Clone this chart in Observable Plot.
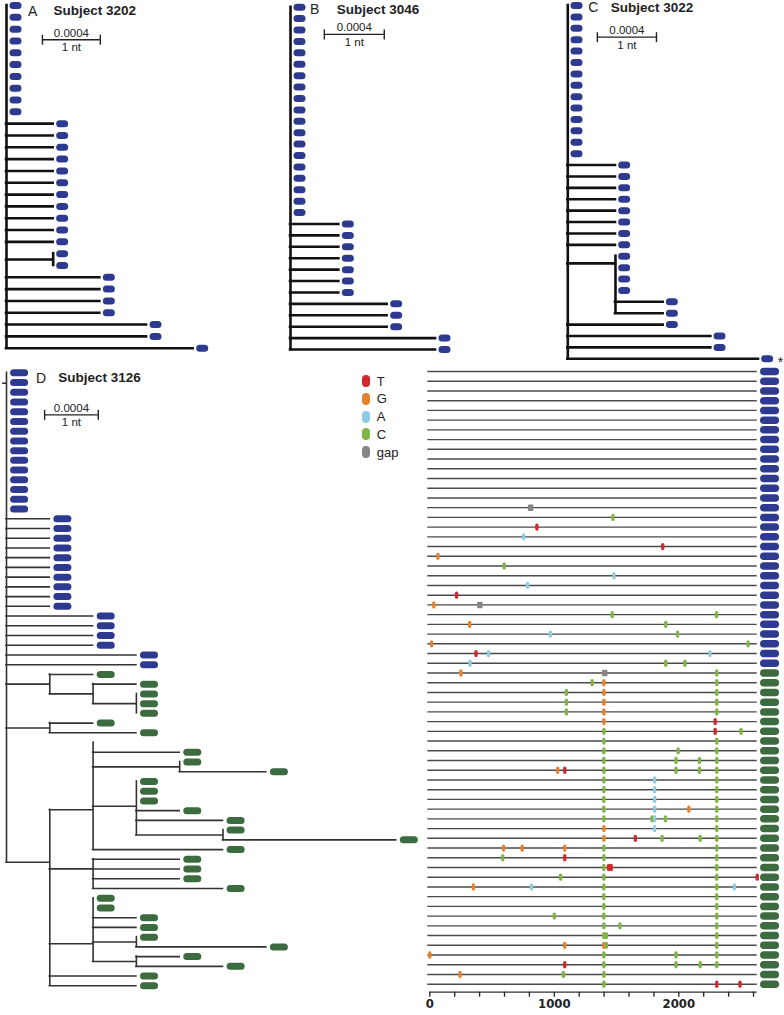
<!DOCTYPE html>
<html><head><meta charset="utf-8">
<script src="https://cdn.jsdelivr.net/npm/d3@7"></script>
<script src="https://cdn.jsdelivr.net/npm/@observablehq/plot@0.6"></script>
<style>
html,body{margin:0;padding:0;background:#fff;}
#chart{position:relative;width:784px;height:1015px;overflow:hidden;font-family:"Liberation Sans",Arial,sans-serif;color:#222;}
#chart svg{position:absolute;left:0;top:0;}
.t{position:absolute;white-space:nowrap;line-height:1;}
.pill{position:absolute;width:8px;height:12px;border-radius:4px;}
</style></head><body><div id="chart"></div>
<script>
// ---------------- DATA ----------------
// Trees in Newick form: tip names b = blue (early) tip, s = blue tip marked "*", g = green tip, h = green tip without symbol.
// Branch lengths in nucleotide substitutions; "#k" = position of a polytomy node, in tip rows.
const treeA = `(b:0,b:0,b:0,b:0,b:0,b:0,b:0,b:0,b:0,b:0,
 b:1,b:1,b:1,b:1,b:1,b:1,b:1,b:1,b:1,b:1,b:1,(b:0,b:0):1,
 b:2,b:2,b:2,b:2,b:3,b:3,b:4)`;
const treeB = `(b:0,b:0,b:0,b:0,b:0,b:0,b:0,b:0,b:0,b:0,b:0,b:0,b:0,b:0,b:0,b:0,b:0,b:0,b:0,
 b:1,b:1,b:1,b:1,b:1,b:1,b:1,b:2,b:2,b:2,b:3,b:3)`;
const treeC = `(b:0,b:0,b:0,b:0,b:0,b:0,b:0,b:0,b:0,b:0,b:0,b:0,b:0,b:0,
 b:1,b:1,b:1,b:1,b:1,b:1,b:1,b:1,(b:0,b:0,b:0,b:0,b:1,b:1)#22.63:1,
 b:2,b:3,b:3,s:4)`;
const treeD = `(b:0,b:0,b:0,b:0,b:0,b:0,b:0,b:0,b:0,b:0,b:0,b:0,b:0,b:0,b:0,
 b:1,b:1,b:1,b:1,b:1,b:1,b:1,b:1,b:1,b:1,b:2,b:2,b:2,b:2,b:3,b:3,
 (g:1,(g:1,(g:0,g:0,g:0):1):1):1,
 (g:1,g:2):1,
 ((h:0,g:2,(g:0,g:2):2,(g:0,g:0,g:0,g:1,g:2,(g:0,g:4):2)#44.54:1,g:3)#44.9:1,
  (g:2,g:2,g:2,g:3)#50.98:1,
  (g:0,g:0,g:1,g:1,(g:0,g:3):1,(g:1,g:2):1)#58.68:1,
  g:2,g:2)#50.3:1)#1.07`;

const letters = ["A", "B", "C", "D"];
const subjects = ["Subject 3202", "Subject 3046", "Subject 3022", "Subject 3126"];
const scaleTexts = ["0.0004", "1 nt"];
const starText = "*";

const tipColors = {b: "#2e3a8f", s: "#2e3a8f", g: "#3b6b3e", h: "#3b6b3e"};
const bases = ["T", "G", "A", "C", "gap"];
const baseColors = ["#d1282e", "#e6812e", "#8ccde3", "#7fb545", "#868686"];

// Highlighter: [row (tip order of tree D), alignment position, base]
const mutations = [
 [14,810,"gap"],[15,1471,"C"],[16,860,"T"],[17,753,"A"],[18,1871,"T"],[19,65,"G"],[20,597,"C"],
 [21,1479,"A"],[22,785,"A"],[23,215,"T"],[24,32,"G"],[24,402,"gap"],
 [25,1465,"C"],[25,2303,"C"],[26,320,"G"],[26,1895,"C"],[27,968,"A"],[27,1990,"C"],
 [28,14,"G"],[28,2557,"C"],[29,371,"T"],[29,471,"A"],[29,2250,"A"],
 [30,323,"A"],[30,1895,"C"],[30,2049,"C"],
 [31,250,"G"],[31,1405,"gap"],[31,2305,"C"],
 [32,1304,"C"],[32,1398,"G"],[32,2305,"C"],
 [33,1097,"C"],[33,1398,"G"],[33,2305,"C"],
 [34,1097,"C"],[34,1398,"G"],[34,2305,"C"],
 [35,1097,"C"],[35,1398,"G"],[35,2305,"C"],
 [36,1398,"G"],[36,2292,"T"],
 [37,1398,"C"],[37,2292,"T"],[37,2500,"C"],
 [38,1398,"C"],[38,2305,"C"],
 [39,1398,"C"],[39,1995,"C"],[39,2305,"C"],
 [40,1398,"C"],[40,1978,"C"],[40,2166,"C"],[40,2305,"C"],
 [41,1027,"G"],[41,1084,"T"],[41,1398,"C"],[41,1978,"C"],[41,2166,"C"],[41,2305,"C"],
 [42,1398,"C"],[42,1806,"A"],[42,2305,"C"],
 [43,1398,"C"],[43,1806,"A"],[43,2305,"C"],
 [44,1398,"C"],[44,1806,"A"],[44,2305,"C"],
 [45,1398,"C"],[45,1806,"A"],[45,2081,"G"],[45,2305,"C"],
 [46,1398,"C"],[46,1785,"C"],[46,1806,"A"],[46,1893,"C"],[46,2305,"C"],
 [47,1398,"G"],[47,1806,"A"],[47,2305,"C"],
 [48,1398,"G"],[48,1651,"T"],[48,1866,"C"],[48,2172,"C"],[48,2305,"C"],
 [49,592,"G"],[49,742,"G"],[49,1084,"G"],[49,1398,"C"],[49,2305,"C"],
 [50,586,"C"],[50,1084,"T"],[50,1398,"C"],[50,2305,"C"],
 [51,1398,"C"],[51,1436,"T"],[51,1457,"T"],[51,2305,"C"],
 [52,1051,"C"],[52,1398,"C"],[52,2305,"C"],[52,2630,"T"],
 [53,350,"G"],[53,817,"A"],[53,1398,"C"],[53,2305,"C"],[53,2447,"A"],
 [54,1398,"C"],[54,2305,"C"],
 [55,1398,"C"],[55,2305,"C"],
 [56,1000,"C"],[56,1398,"C"],[56,2305,"C"],
 [57,1398,"C"],[57,1527,"C"],[57,2305,"C"],
 [58,1398,"C"],[58,1418,"C"],[58,2305,"C"],
 [59,1084,"G"],[59,1398,"G"],[59,1418,"C"],[59,2305,"C"],
 [60,0,"G"],[60,1398,"C"],[60,1978,"C"],[60,2305,"C"],
 [61,1084,"T"],[61,1398,"C"],[61,1978,"C"],[61,2172,"C"],[61,2305,"C"],
 [62,242,"G"],[62,1073,"C"],[62,1398,"C"],
 [63,1398,"C"],[63,2305,"T"],[63,2492,"T"]
];
const seqLength = 2630;
const axisTicks = [0,200,400,600,800,1000,1200,1400,1600,1800,2000,2200,2400,2600];
const axisLabels = [0, 1000, 2000];
const scaleBarUnits = 1.24; // drawn length of the 0.0004 / 1 nt bar, in branch units

// ---------------- LAYOUT (pixels) ----------------
const FONT = '"Liberation Sans", Arial, sans-serif';
const layouts = [
 {tree: treeA, x: [6, 192.7], y: [5, 347.7], stroke: "#111", sw: 2.6, tip: [12, 7], tipDx: 9, bar: [0.77, 2.9],
  letterPos: [28, 15.5], subjectPos: [53.5, 15]},
 {tree: treeB, x: [290, 435], y: [6.7, 349], stroke: "#111", sw: 2.6, tip: [12, 7], tipDx: 9, bar: [0.70, 2.39],
  letterPos: [310, 14.3], subjectPos: [336.7, 14.3]},
 {tree: treeC, x: [567.3, 758], y: [5, 358.3], stroke: "#111", sw: 2.6, tip: [12, 7], tipDx: 8.7, bar: [0.62, 2.78],
  letterPos: [588.3, 12], subjectPos: [610.7, 12]},
 {tree: treeD, x: [6, 395.7], y: [372.3, 985.3], stroke: "#333", sw: 1.6, tip: [18, 7], tipDx: 12.6, bar: [0.88, 4.32],
  letterPos: [36, 382.5], subjectPos: [58.3, 382.5], stub: 0.09}
];

// ---------------- HELPERS ----------------
function capsule(w, h) {
  return {draw(ctx) {
    const r = Math.min(w, h) / 2, x0 = -w / 2, x1 = w / 2, y0 = -h / 2, y1 = h / 2;
    if (w >= h) {
      ctx.moveTo(x0 + r, y0); ctx.lineTo(x1 - r, y0);
      ctx.arc(x1 - r, 0, r, -Math.PI / 2, Math.PI / 2);
      ctx.lineTo(x0 + r, y1);
      ctx.arc(x0 + r, 0, r, Math.PI / 2, 3 * Math.PI / 2);
    } else {
      ctx.moveTo(x1, y0 + r); ctx.lineTo(x1, y1 - r);
      ctx.arc(0, y1 - r, r, 0, Math.PI);
      ctx.lineTo(x0, y0 + r);
      ctx.arc(0, y0 + r, r, Math.PI, 2 * Math.PI);
    }
    ctx.closePath();
  }};
}
function box(w, h) { return {draw(ctx) { ctx.rect(-w / 2, -h / 2, w, h); }}; }

function parseNewick(str) {
  const s = str.replace(/\s+/g, ""); let i = 0;
  function num() { let t = ""; while (i < s.length && /[0-9.]/.test(s[i])) t += s[i++]; return +t; }
  function node() {
    const n = {children: [], len: 0};
    if (s[i] === "(") {
      i++; n.children.push(node());
      while (s[i] === ",") { i++; n.children.push(node()); }
      i++;
    } else { let name = ""; while (i < s.length && /[a-z]/.test(s[i])) name += s[i++]; n.name = name; }
    if (s[i] === "#") { i++; n.at = num(); }
    if (s[i] === ":") { i++; n.len = num(); }
    return n;
  }
  return node();
}
function layoutTree(root) {
  const leaves = [], nodes = []; let k = 0;
  (function walk(n, px) {
    n.px = px; n.x = px + n.len;
    if (!n.children.length) { n.y = k++; leaves.push(n); return; }
    n.children.forEach(c => walk(c, n.x));
    const ys = n.children.map(c => c.y);
    n.y1 = d3.min(ys); n.y2 = d3.max(ys);
    n.y = n.at != null ? n.at : (ys[0] + ys[ys.length - 1]) / 2;
    nodes.push(n);
  })(root, 0);
  return {root, leaves, nodes};
}

const chart = document.getElementById("chart");
function addText(txt, left, baseline, size, weight) {
  const d = document.createElement("div");
  d.className = "t"; d.textContent = txt;
  d.style.left = left + "px"; d.style.top = (baseline - 0.8465 * size) + "px";
  d.style.fontSize = size + "px"; d.style.fontWeight = weight;
  chart.appendChild(d);
}

// ---------------- TREES ----------------
let treeDLeaves = null;
layouts.forEach((L, pi) => {
  const {root, leaves, nodes} = layoutTree(parseNewick(L.tree));
  if (pi === 3) treeDLeaves = leaves;
  const all = [...nodes, ...leaves];
  const branches = all.filter(n => n !== root && n.len > 0);
  const lineStyle = {stroke: L.stroke, strokeWidth: L.sw, strokeLinecap: "square"};
  const barX0 = L.bar[0], barY = L.bar[1];
  const marks = [
    Plot.ruleY(branches, {y: "y", x1: "px", x2: "x", ...lineStyle}),
    Plot.ruleX(nodes, {x: "x", y1: "y1", y2: "y2", ...lineStyle}),
    Plot.dot(leaves.filter(d => d.name !== "h"), {x: "x", y: "y", dx: L.tipDx, r: 5,
      symbol: capsule(L.tip[0], L.tip[1]), fill: d => tipColors[d.name], stroke: null}),
    Plot.text(leaves.filter(d => d.name === "s"), {x: "x", y: "y", text: () => starText, dx: L.tipDx + 10.5, dy: 3.5,
      textAnchor: "start", fontSize: 14, fontFamily: FONT, fill: "#222"}),
    // scale bar
    Plot.ruleY([barY], {y: d => d, x1: () => barX0, x2: () => barX0 + scaleBarUnits, stroke: "#222", strokeWidth: 1.3}),
    Plot.dot([barX0, barX0 + scaleBarUnits], {x: d => d, y: () => barY, r: 5, symbol: box(1.4, 10), fill: "#222", stroke: null}),
    Plot.text([scaleTexts[0]], {x: () => barX0 + scaleBarUnits / 2, y: () => barY, text: d => d, dy: -6.7,
      fontSize: 11.5, fontFamily: FONT, fill: "#222"}),
    Plot.text([scaleTexts[1]], {x: () => barX0 + scaleBarUnits / 2, y: () => barY, text: d => d, dy: 7.7,
      fontSize: 11.5, fontFamily: FONT, fill: "#222"})
  ];
  if (L.stub) marks.push(Plot.ruleY([root], {y: "y", x1: d => d.x - L.stub, x2: "x", stroke: L.stroke, strokeWidth: L.sw}));
  const svg = Plot.plot({
    width: 784, height: 1015, margin: 0, axis: null,
    style: {background: "none", overflow: "visible"},
    x: {domain: [0, d3.max(leaves, d => d.x)], range: L.x},
    y: {domain: [0, leaves.length - 1], range: L.y},
    color: {type: "identity"},
    marks
  });
  chart.appendChild(svg);
  addText(letters[pi], L.letterPos[0], L.letterPos[1], 14, "normal");
  addText(subjects[pi], L.subjectPos[0], L.subjectPos[1], 13.5, "bold");
});

// ---------------- HIGHLIGHTER ----------------
const rows = treeDLeaves.map((d, i) => ({row: i, color: tipColors[d.name]}));
const colorOf = b => baseColors[bases.indexOf(b)];
const hl = Plot.plot({
  width: 784, height: 1015, marginTop: 0, marginLeft: 0, marginRight: 0, marginBottom: 23.3,
  style: {background: "none", overflow: "visible"},
  x: {domain: [0, 2600], range: [429.3, 753]},
  y: {domain: [0, rows.length - 1], range: [371, 983.7], axis: null},
  color: {type: "identity"},
  marks: [
    Plot.ruleY(rows, {y: "row", x1: () => 0, x2: () => seqLength, insetLeft: -2, stroke: "#4a4a4a", strokeWidth: 1.4}),
    Plot.dot(rows, {x: () => seqLength, y: "row", dx: 12.3, r: 5, symbol: capsule(19, 7.5), fill: "color", stroke: null}),
    Plot.dot(mutations.filter(m => m[2] !== "gap"), {x: d => d[1], y: d => d[0], r: 5,
      symbol: capsule(3.3, 7.3), fill: d => colorOf(d[2]), stroke: null}),
    Plot.dot(mutations.filter(m => m[2] === "gap"), {x: d => d[1], y: d => d[0], r: 5,
      symbol: {draw(ctx) { const w = 5.5, h = 6.5, r = 1.2; ctx.moveTo(-w/2 + r, -h/2); ctx.lineTo(w/2 - r, -h/2); ctx.arc(w/2 - r, -h/2 + r, r, -Math.PI/2, 0); ctx.lineTo(w/2, h/2 - r); ctx.arc(w/2 - r, h/2 - r, r, 0, Math.PI/2); ctx.lineTo(-w/2 + r, h/2); ctx.arc(-w/2 + r, h/2 - r, r, Math.PI/2, Math.PI); ctx.lineTo(-w/2, -h/2 + r); ctx.arc(-w/2 + r, -h/2 + r, r, Math.PI, 1.5*Math.PI); ctx.closePath(); }},
      fill: d => colorOf(d[2]), stroke: null}),
    Plot.ruleY([rows.length - 1], {y: d => d, x1: () => 0, x2: () => seqLength, dy: 8, stroke: "#333", strokeWidth: 1.3}),
    Plot.axisX({ticks: axisTicks, tickSize: 5, tickPadding: 2, strokeWidth: 1.3, label: null,
      tickFormat: d => axisLabels.includes(d) ? String(d) : "",
      fontSize: 13, fontWeight: "bold", fontFamily: '"Liberation Sans Narrow", "DejaVu Sans Condensed", "Liberation Sans", sans-serif', fill: "#222"})
  ]
});
chart.appendChild(hl);

// ---------------- LEGEND ----------------
const legendTop = 381, legendStep = 17.8;
bases.forEach((b, i) => {
  const c = legendTop + i * legendStep;
  const p = document.createElement("div");
  p.className = "pill"; p.style.left = "362px"; p.style.top = (c - 6) + "px"; p.style.background = baseColors[i];
  chart.appendChild(p);
  addText(b, 376.7, c + 4.65, 13, "normal");
});
</script></body></html>
